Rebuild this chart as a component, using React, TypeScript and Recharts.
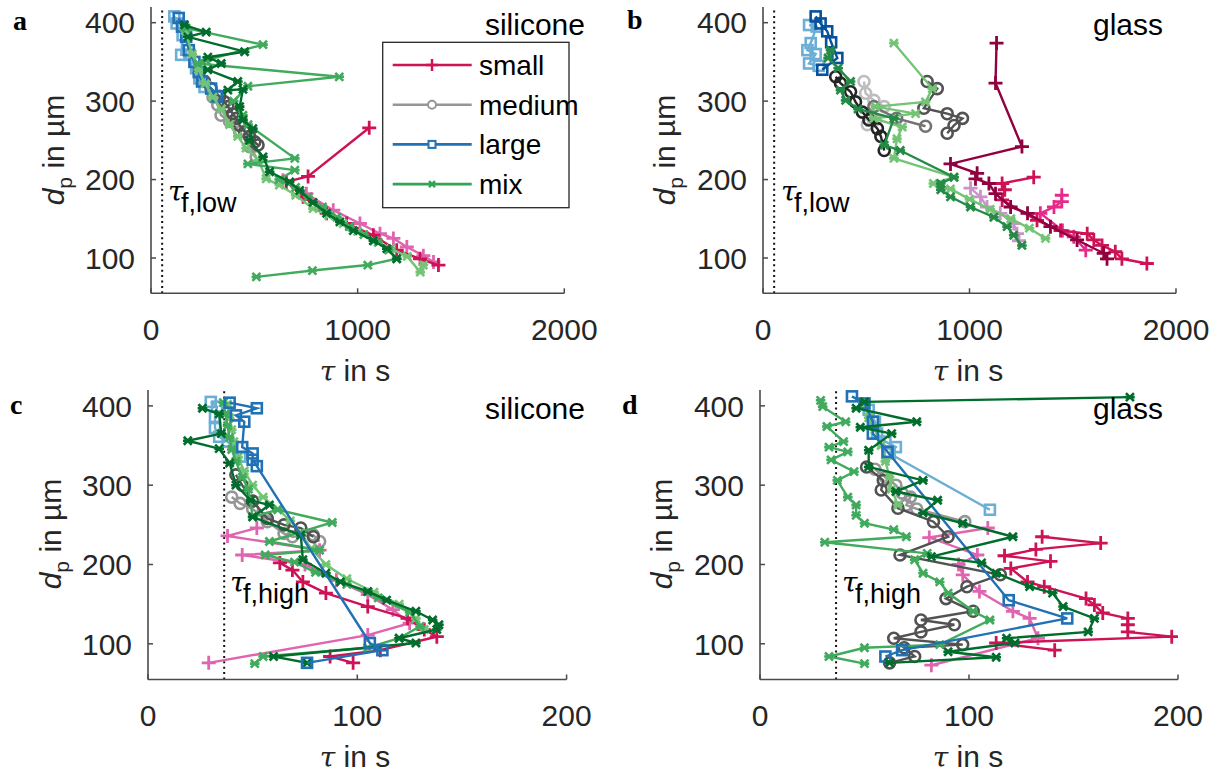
import React from 'react';
import { ScatterChart, Scatter, XAxis, YAxis, ReferenceLine } from 'recharts';

type Pt = [number, number]; // [tau in s, d_p in µm]
type MarkerKind = 'plus' | 'circle' | 'square' | 'star';

// ---------- shared axis values ----------
const dpTicks = [100, 200, 300, 400];
const dpDomain: [number, number] = [55, 420];
const tauTicksLow = [0, 1000, 2000];
const tauTicksHigh = [0, 100, 200];
const TAU_F_LOW = 54;
const TAU_F_HIGH = 36.4;

const sizeClasses = ['small', 'medium', 'large', 'mix'];

// ---------- a: silicone, low flow ----------
const aSmallRed: Pt[] = [[1056, 266], [760, 204], [655, 197], [736, 178], [850, 157], [947, 144], [1076, 129], [1189, 110], [1302, 99], [1391, 91]];
const aSmallPink: Pt[] = [[639, 199], [752, 182], [882, 161], [1011, 144], [1108, 131], [1173, 125], [1238, 114], [1318, 103], [1367, 95]];
const aMediumLight: Pt[] = [[300, 305], [323, 295], [339, 282], [380, 274], [429, 261], [477, 242], [509, 229]];
const aMediumDark: Pt[] = [[259, 325], [291, 316], [332, 306], [356, 299], [372, 293], [396, 284], [413, 278], [429, 269], [453, 261], [477, 255], [502, 248], [518, 244]];
const aLargeLight: Pt[] = [[113, 408], [124, 399], [153, 384], [146, 359], [186, 359], [218, 342], [234, 329], [259, 318]];
const aLargeDark: Pt[] = [[134, 406], [150, 395], [170, 382], [183, 365], [210, 350], [231, 337], [247, 325], [291, 316], [318, 306]];
const aMixLight: Pt[] = [[165, 390], [200, 360], [230, 340], [262, 322], [300, 305], [340, 290], [380, 270], [420, 255], [460, 240], [520, 225], [557, 201], [621, 193], [700, 180], [784, 163], [860, 154], [930, 144], [1000, 134], [1080, 122], [1160, 112], [1240, 102], [1303, 82], [1318, 91]];
const aMixMid: Pt[] = [[170, 393], [542, 372], [267, 352], [228, 348], [911, 331], [469, 319], [400, 300], [445, 282], [470, 270], [696, 227], [469, 220], [696, 212], [620, 200], [700, 190], [760, 178], [830, 165], [900, 152], [960, 140], [1030, 130], [1100, 120], [1150, 110], [1189, 99], [1049, 91], [781, 84], [510, 76]];
const aMixDark: Pt[] = [[162, 397], [267, 388], [178, 382], [453, 363], [275, 356], [340, 348], [275, 340], [420, 325], [372, 314], [445, 315], [429, 293], [445, 276], [493, 265], [477, 250], [542, 229], [574, 210], [671, 197], [720, 186], [784, 171], [850, 157], [914, 146], [979, 135], [1076, 122], [1141, 112], [1189, 99]];

// ---------- b: glass, low flow ----------
const bSmallLilac: Pt[] = [[1005, 189], [1053, 178], [1085, 165], [1149, 157], [1214, 144], [1230, 131], [1240, 122]];
const bSmallMaroon: Pt[] = [[1131, 374], [1126, 323], [1254, 242], [908, 220], [1037, 208], [1029, 201], [1094, 195], [1126, 182], [1199, 165], [1281, 157], [1392, 140], [1521, 123], [1650, 106], [1666, 99]];
const bSmallRed: Pt[] = [[1311, 203], [1158, 195], [1171, 187], [1158, 174], [1327, 148], [1441, 135], [1570, 131], [1602, 123], [1642, 116], [1706, 108], [1738, 99], [1859, 93]];
const bSmallPink: Pt[] = [[1447, 180], [1447, 172], [1409, 165], [1343, 157], [1450, 135], [1505, 127], [1563, 110]];
const bMediumBlack: Pt[] = [[352, 331], [375, 323], [424, 312], [448, 299], [481, 286], [513, 276], [554, 265], [571, 255], [587, 237]];
const bMediumLight: Pt[] = [[489, 325], [497, 310], [537, 301], [587, 293], [520, 283], [505, 270], [545, 276]];
const bMediumGray: Pt[] = [[537, 293], [647, 278], [787, 268]];
const bMediumDark: Pt[] = [[795, 325], [844, 316], [779, 291], [892, 284], [966, 278], [925, 269], [892, 259]];
const bLargeLight: Pt[] = [[223, 397], [260, 395], [231, 374], [215, 365], [255, 360], [223, 348], [270, 345]];
const bLargeDark: Pt[] = [[255, 408], [279, 399], [311, 389], [330, 375], [360, 355], [287, 340]];
const bMixLight: Pt[] = [[634, 374], [820, 316], [787, 299], [545, 293], [739, 284], [537, 278], [674, 267], [649, 252], [634, 227], [925, 203], [825, 195], [908, 188], [1000, 175], [1100, 162], [1200, 150], [1290, 138], [1368, 125]];
const bMixDark: Pt[] = [[327, 365], [315, 355], [364, 342], [424, 325], [375, 314], [400, 301], [460, 290], [634, 278], [587, 244], [665, 237], [925, 203], [861, 195], [861, 187], [908, 178], [1005, 165], [1118, 152], [1182, 140], [1214, 129], [1254, 116]];

// ---------- c: silicone, high flow ----------
const cSmallRed: Pt[] = [[63, 202], [69, 193], [74, 178], [85, 164], [105, 147], [124, 132], [132, 118], [138, 109], [111, 92], [87, 84], [98, 76]];
const cSmallPink: Pt[] = [[52, 246], [38, 236], [82, 218], [45, 212], [75, 200], [90, 180], [105, 162], [117, 143], [125, 126], [105, 111], [29, 76]];
const cMediumLight: Pt[] = [[40, 285], [44, 277], [50, 270], [57, 254], [65, 239], [69, 235], [79, 237], [82, 229]];
const cMediumDark: Pt[] = [[42, 313], [45, 300], [50, 280], [57, 258], [65, 250], [73, 246], [79, 235]];
const cLargeLight: Pt[] = [[30, 405], [33, 399], [32, 386], [32, 372], [34, 361], [38, 355], [44, 336]];
const cLargeDark: Pt[] = [[39, 404], [52, 397], [42, 388], [46, 380], [45, 348], [50, 340], [50, 332], [52, 324], [106, 101], [112, 92], [76, 76]];
const cMixLight: Pt[] = [[38, 402], [39, 385], [40, 370], [41, 355], [43, 335], [46, 318], [50, 300], [55, 285], [62, 270], [68, 255], [73, 240], [78, 220], [85, 200], [95, 182], [108, 165], [120, 150], [128, 132], [132, 118]];
const cMixMid: Pt[] = [[36, 404], [37, 390], [38, 375], [39, 360], [40, 345], [42, 330], [45, 310], [48, 295], [50, 260], [62, 269], [88, 253], [58, 229], [82, 218], [56, 212], [70, 203], [80, 190], [95, 175], [110, 158], [125, 140], [130, 122], [120, 107], [105, 95], [55, 84], [51, 75]];
const cMixDark: Pt[] = [[26, 397], [34, 390], [35, 365], [19, 356], [34, 346], [39, 328], [42, 300], [49, 281], [58, 275], [50, 260], [73, 237], [74, 206], [85, 189], [92, 178], [105, 166], [114, 155], [128, 141], [136, 130], [139, 124], [138, 118], [120, 107], [128, 101], [60, 84], [76, 76]];

// ---------- d: glass, high flow ----------
const dSmallRed: Pt[] = [[135, 235], [163, 227], [132, 219], [117, 211], [139, 204], [120, 195], [128, 178], [136, 172], [156, 157], [160, 149], [164, 139], [176, 132], [176, 124], [176, 115], [197, 109], [113, 101], [141, 92]];
const dSmallPink: Pt[] = [[109, 246], [81, 234], [104, 212], [95, 200], [97, 187], [105, 166], [121, 141], [129, 132], [133, 107], [82, 73]];
const dMediumLight: Pt[] = [[55, 320], [60, 310], [65, 300], [68, 290], [72, 285], [70, 275], [75, 270], [98, 254]];
const dMediumDark: Pt[] = [[51, 323], [59, 306], [58, 294], [66, 271], [83, 254], [90, 235], [67, 212], [115, 187], [99, 172], [89, 157], [102, 141], [77, 130], [93, 124], [77, 115], [64, 107], [97, 99], [69, 95], [74, 84], [62, 76]];
const dLargeLight: Pt[] = [[52, 395], [55, 380], [56, 365], [60, 355], [65, 348], [62, 340], [110, 269]];
const dLargeDark: Pt[] = [[44, 412], [50, 403], [54, 380], [54, 365], [61, 342], [119, 155], [147, 132], [68, 92], [60, 84]];
const dMixLight: Pt[] = [[50, 400], [52, 385], [55, 370], [58, 350], [60, 330], [62, 310], [63, 295], [66, 275]];
const dMixMid: Pt[] = [[29, 407], [30, 399], [41, 380], [32, 374], [40, 355], [33, 348], [42, 342], [34, 332], [45, 317], [37, 306], [42, 285], [46, 275], [46, 262], [50, 252], [64, 244], [70, 235], [31, 228], [80, 214], [74, 206], [78, 189], [86, 178], [90, 164], [102, 141], [110, 130], [86, 99], [50, 95], [33, 84], [50, 75]];
const dMixDark: Pt[] = [[177, 411], [50, 405], [46, 397], [75, 380], [48, 373], [63, 365], [52, 344], [52, 323], [78, 306], [65, 292], [85, 281], [78, 265], [97, 252], [121, 235], [82, 210], [106, 202], [113, 189], [129, 172], [140, 164], [145, 147], [160, 132], [157, 115], [118, 107], [122, 101], [90, 90], [113, 83], [62, 76]];

// ---------- styling ----------
const FONT = '"Liberation Sans", Arial, Helvetica, sans-serif';
const SERIF = '"Liberation Serif", "DejaVu Serif", serif';
const GREEK = '"DejaVu Serif", serif';
const INK = '#262626';
const AXIS = '#4a4a4a';

const C = {
  crimson: '#CE1256', maroon: '#91003F', pink: '#E7298A', lightPink: '#DF65B0', lilac: '#C994C7',
  black: '#252525', darkGray: '#525252', gray: '#737373', midGray: '#969696', lightGray: '#BDBDBD',
  darkBlue: '#08519C', blue: '#2171B5', lightBlue: '#6BAED6',
  darkGreen: '#006D2C', green2: '#238B45', green: '#41AB5D', lightGreen: '#74C476',
};

type SeriesDef = { data: Pt[]; color: string; kind: MarkerKind };

const seriesA: SeriesDef[] = [
  { data: aSmallPink, color: C.lightPink, kind: 'plus' },
  { data: aSmallRed, color: C.crimson, kind: 'plus' },
  { data: aMediumLight, color: C.midGray, kind: 'circle' },
  { data: aMediumDark, color: C.darkGray, kind: 'circle' },
  { data: aLargeLight, color: C.lightBlue, kind: 'square' },
  { data: aLargeDark, color: C.blue, kind: 'square' },
  { data: aMixLight, color: C.lightGreen, kind: 'star' },
  { data: aMixMid, color: C.green, kind: 'star' },
  { data: aMixDark, color: C.darkGreen, kind: 'star' },
];
const seriesB: SeriesDef[] = [
  { data: bSmallLilac, color: C.lilac, kind: 'plus' },
  { data: bSmallPink, color: C.pink, kind: 'plus' },
  { data: bSmallRed, color: C.crimson, kind: 'plus' },
  { data: bSmallMaroon, color: C.maroon, kind: 'plus' },
  { data: bMediumLight, color: C.lightGray, kind: 'circle' },
  { data: bMediumGray, color: C.gray, kind: 'circle' },
  { data: bMediumDark, color: C.darkGray, kind: 'circle' },
  { data: bMediumBlack, color: C.black, kind: 'circle' },
  { data: bLargeLight, color: C.lightBlue, kind: 'square' },
  { data: bLargeDark, color: C.darkBlue, kind: 'square' },
  { data: bMixLight, color: C.lightGreen, kind: 'star' },
  { data: bMixDark, color: C.green2, kind: 'star' },
];
const seriesC: SeriesDef[] = [
  { data: cSmallPink, color: C.lightPink, kind: 'plus' },
  { data: cSmallRed, color: C.crimson, kind: 'plus' },
  { data: cMediumLight, color: C.midGray, kind: 'circle' },
  { data: cMediumDark, color: C.darkGray, kind: 'circle' },
  { data: cLargeLight, color: C.lightBlue, kind: 'square' },
  { data: cMixLight, color: C.lightGreen, kind: 'star' },
  { data: cMixMid, color: C.green, kind: 'star' },
  { data: cMixDark, color: C.darkGreen, kind: 'star' },
  { data: cLargeDark, color: C.blue, kind: 'square' },
];
const seriesD: SeriesDef[] = [
  { data: dSmallPink, color: C.lightPink, kind: 'plus' },
  { data: dSmallRed, color: C.crimson, kind: 'plus' },
  { data: dMediumLight, color: C.midGray, kind: 'circle' },
  { data: dMediumDark, color: C.darkGray, kind: 'circle' },
  { data: dLargeLight, color: C.lightBlue, kind: 'square' },
  { data: dMixLight, color: C.lightGreen, kind: 'star' },
  { data: dMixMid, color: C.green, kind: 'star' },
  { data: dLargeDark, color: C.blue, kind: 'square' },
  { data: dMixDark, color: C.darkGreen, kind: 'star' },
];

const toRows = (pts: Pt[]) => pts.map(([t, d]) => ({ t, d }));

function Marker({ cx, cy, kind, color }: { cx: number; cy: number; kind: MarkerKind; color: string }) {
  if (cx == null || cy == null) return null;
  switch (kind) {
    case 'plus':
      return <path d={`M${cx - 7},${cy}H${cx + 7}M${cx},${cy - 7}V${cy + 7}`} stroke={color} strokeWidth={2.8} fill="none" />;
    case 'circle':
      return <circle cx={cx} cy={cy} r={5.5} fill="none" stroke={color} strokeWidth={2.6} />;
    case 'square':
      return <rect x={cx - 5} y={cy - 5} width={10} height={10} fill="none" stroke={color} strokeWidth={2.6} />;
    default: {
      const s = 4;
      return (
        <path
          d={`M${cx - s},${cy - s}L${cx + s},${cy + s}M${cx - s},${cy + s}L${cx + s},${cy - s}M${cx - s - 0.8},${cy}H${cx + s + 0.8}`}
          stroke={color}
          strokeWidth={2.6}
          fill="none"
        />
      );
    }
  }
}

const Y_TICK_GAP = 16;
const X_TICK_GAP = 25;
const TICK_LEN = 5;

const YTick = (props: any) => {
  const { x, y, payload } = props;
  const ax = x + Y_TICK_GAP;
  return (
    <g>
      <line x1={ax} x2={ax + TICK_LEN} y1={y} y2={y} stroke={AXIS} strokeWidth={1.5} />
      <text x={x} y={y} dy="0.36em" textAnchor="end" fill={INK} fontSize={30} fontFamily={FONT}>
        {payload.value}
      </text>
    </g>
  );
};

const XTick = (props: any) => {
  const { x, y, payload } = props;
  const ay = y - X_TICK_GAP;
  return (
    <g>
      <line x1={x} x2={x} y1={ay} y2={ay - TICK_LEN} stroke={AXIS} strokeWidth={1.5} />
      <text x={x} y={y} dy="0.71em" textAnchor="middle" fill={INK} fontSize={30} fontFamily={FONT}>
        {payload.value}
      </text>
    </g>
  );
};

type PanelProps = {
  left: number; top: number; plotW: number; plotH: number;
  xMax: number; xTicks: number[]; series: SeriesDef[]; tauF: number;
};

function Panel({ left, top, plotW, plotH, xMax, xTicks, series, tauF }: PanelProps) {
  const padL = 100, padT = 10, padR = 44, padB = 60;
  return (
    <div style={{ position: 'absolute', left: left - padL, top: top - padT }}>
      <ScatterChart
        width={plotW + padL + padR}
        height={plotH + padT + padB}
        margin={{ top: padT, right: padR, left: 0, bottom: 0 }}
      >
        <XAxis
          type="number" dataKey="t" domain={[0, xMax]} ticks={xTicks} allowDataOverflow
          height={padB} axisLine={{ stroke: AXIS, strokeWidth: 1.6 }} tickLine={false}
          tickSize={0} tickMargin={X_TICK_GAP} tick={<XTick />} interval={0}
        />
        <YAxis
          type="number" dataKey="d" domain={dpDomain} ticks={dpTicks} allowDataOverflow
          width={padL} axisLine={{ stroke: AXIS, strokeWidth: 1.6 }} tickLine={false}
          tickSize={0} tickMargin={Y_TICK_GAP} tick={<YTick />} interval={0}
        />
        <ReferenceLine x={tauF} stroke="#111" strokeWidth={2} strokeDasharray="2 3.4" />
        {series.map((s, i) => (
          <Scatter
            key={i}
            data={toRows(s.data)}
            fill={s.color}
            stroke={s.color}
            line={{ stroke: s.color, strokeWidth: 2.4 }}
            lineType="joint"
            isAnimationActive={false}
            shape={(p: any) => <Marker cx={p.cx} cy={p.cy} kind={s.kind} color={s.color} />}
          />
        ))}
      </ScatterChart>
    </div>
  );
}

const legendStyles: { color: string; kind: MarkerKind }[] = [
  { color: C.crimson, kind: 'plus' },
  { color: C.midGray, kind: 'circle' },
  { color: C.blue, kind: 'square' },
  { color: '#31A354', kind: 'star' },
];

function Overlay() {
  const panelLetter = (ch: string, x: number, y: number) => (
    <text x={x} y={y} fontFamily={SERIF} fontWeight="bold" fontSize={28} fill="#000">{ch}</text>
  );
  const title = (s: string, x: number, y: number) => (
    <text x={x} y={y} textAnchor="end" fontFamily={FONT} fontSize={30} fill="#000">{s}</text>
  );
  const yLabel = (x: number, y: number) => (
    <text transform={`translate(${x},${y}) rotate(-90)`} textAnchor="middle" fontFamily={FONT} fontSize={30} fill={INK}>
      <tspan fontStyle="italic">d</tspan>
      <tspan fontSize={21} dy={8}>p</tspan>
      <tspan dy={-8}> in µm</tspan>
    </text>
  );
  const xLabel = (x: number, y: number) => (
    <text x={x} y={y} textAnchor="middle" fontFamily={FONT} fontSize={30} fill={INK}>
      <tspan fontFamily={GREEK} fontStyle="italic" fontSize={28}>τ</tspan>
      <tspan> in s</tspan>
    </text>
  );
  const tauF = (x: number, y: number, sub: string) => (
    <g fill="#000">
      <text x={x} y={y} fontFamily={GREEK} fontStyle="italic" fontSize={28}>τ</text>
      <text x={x + 13} y={y + 11} fontFamily={FONT} fontSize={27}>{sub}</text>
    </g>
  );
  const lgX = 382.7, lgY = 42.3, lgW = 186.3, lgH = 165.4;
  return (
    <svg width={1220} height={778} style={{ position: 'absolute', left: 0, top: 0, pointerEvents: 'none' }}>
      {panelLetter('a', 13, 30)}
      {panelLetter('b', 627, 29)}
      {panelLetter('c', 10, 414)}
      {panelLetter('d', 622, 414)}

      {title('silicone', 585, 35)}
      {title('glass', 1163, 35)}
      {title('silicone', 585, 419)}
      {title('glass', 1163, 419)}

      {yLabel(64, 150)}
      {yLabel(675, 150)}
      {yLabel(61, 534)}
      {yLabel(672, 534)}

      {xLabel(355, 381)}
      {xLabel(968, 381)}
      {xLabel(355, 767)}
      {xLabel(968, 767)}

      {tauF(168, 201, 'f,low')}
      {tauF(781, 201, 'f,low')}
      {tauF(230, 592, 'f,high')}
      {tauF(842, 592, 'f,high')}

      <rect x={lgX} y={lgY} width={lgW} height={lgH} fill="#fff" stroke={INK} strokeWidth={1.3} />
      {sizeClasses.map((name, i) => {
        const cy = 65 + i * 39.7;
        const st = legendStyles[i];
        return (
          <g key={name}>
            <line x1={392.7} x2={471.7} y1={cy} y2={cy} stroke={st.color} strokeWidth={2.6} />
            {st.kind === 'circle' ? (
              <circle cx={432} cy={cy} r={4} fill="#fff" stroke={st.color} strokeWidth={2} />
            ) : st.kind === 'square' ? (
              <rect x={428.5} y={cy - 3.5} width={7} height={7} fill="#fff" stroke={st.color} strokeWidth={2} />
            ) : st.kind === 'plus' ? (
              <path d={`M${426},${cy}H${438}M${432},${cy - 6}V${cy + 6}`} stroke={st.color} strokeWidth={2.4} />
            ) : (
              <path d={`M${429},${cy - 3}L${435},${cy + 3}M${429},${cy + 3}L${435},${cy - 3}`} stroke={st.color} strokeWidth={2.4} />
            )}
            <text x={479} y={cy + 10} fontFamily={FONT} fontSize={28} fill="#000">{name}</text>
          </g>
        );
      })}
    </svg>
  );
}

export default function App() {
  return (
    <div style={{ position: 'absolute', left: 0, top: 0, width: 1220, height: 778, background: '#fff', overflow: 'hidden' }}>
      <Panel left={150.7} top={7} plotW={413.3} plotH={286.3} xMax={2000} xTicks={tauTicksLow} series={seriesA} tauF={TAU_F_LOW} />
      <Panel left={763} top={7} plotW={413} plotH={286.3} xMax={2000} xTicks={tauTicksLow} series={seriesB} tauF={TAU_F_LOW} />
      <Panel left={148} top={389.8} plotW={418.6} plotH={289.5} xMax={200} xTicks={tauTicksHigh} series={seriesC} tauF={TAU_F_HIGH} />
      <Panel left={759.7} top={389.8} plotW={418} plotH={289.5} xMax={200} xTicks={tauTicksHigh} series={seriesD} tauF={TAU_F_HIGH} />
      <Overlay />
    </div>
  );
}
